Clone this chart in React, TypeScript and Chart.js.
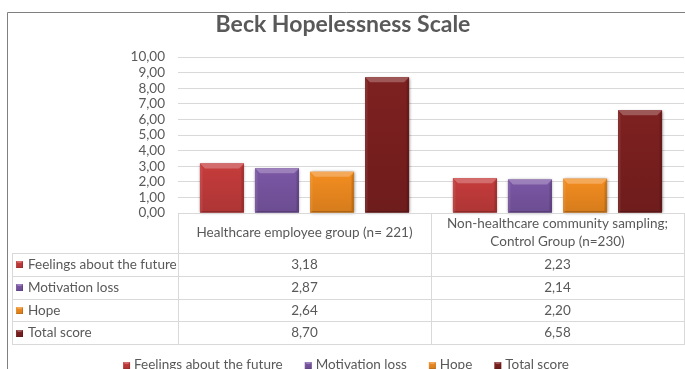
import React, { useEffect, useRef } from "react";
import { Chart, registerables } from "chart.js";

Chart.register(...registerables);

const title = "Beck Hopelessness Scale";
const categories = [
  "Healthcare employee group (n= 221)",
  "Non-healthcare community sampling; Control Group (n=230)",
];
const categoryLines = [
  ["Healthcare employee group (n= 221)"],
  ["Non-healthcare community sampling;", "Control Group (n=230)"],
];
const seriesNames = ["Feelings about the future", "Motivation loss", "Hope", "Total score"];
const feelings = [3.18, 2.23];
const motivation = [2.87, 2.14];
const hope = [2.64, 2.2];
const total = [8.7, 6.58];
const yMin = 0;
const yMax = 10;
const yStep = 1;

const seriesValues = [feelings, motivation, hope, total];
const faceColors = ["#c63c3c", "#7b57a5", "#f38d20", "#7e2020"];

const FONT = "Lato, 'Open Sans', sans-serif";
const TEXT = "#595959";
const LINE = "#d9d9d9";

const fmt = (v: number) => v.toFixed(2).replace(".", ",");

function drawBevelRect(ctx: CanvasRenderingContext2D, l: number, t: number, r: number, btm: number, b: number) {
  const poly = (pts: number[][], color: string) => {
    ctx.beginPath();
    ctx.moveTo(pts[0][0], pts[0][1]);
    for (let i = 1; i < pts.length; i++) ctx.lineTo(pts[i][0], pts[i][1]);
    ctx.closePath();
    ctx.fillStyle = color;
    ctx.fill();
  };
  const h = btm - t;
  const bb = Math.min(b, h / 2);
  const g = ctx.createLinearGradient(0, t, 0, btm);
  g.addColorStop(0, "rgba(0,0,0,0)");
  g.addColorStop(1, "rgba(0,0,0,0.12)");
  ctx.fillStyle = g;
  ctx.fillRect(l, t, r - l, h);
  poly([[l, t], [r, t], [r - bb, t + bb], [l + bb, t + bb]], "rgba(255,255,255,0.25)");
  poly([[l, t], [l + bb * 0.5, t + bb], [l + bb * 0.5, btm - bb * 0.3], [l, btm]], "rgba(255,255,255,0.08)");
  poly([[r, t], [r - bb * 0.5, t + bb], [r - bb * 0.5, btm - bb * 0.3], [r, btm]], "rgba(0,0,0,0.14)");
  poly([[l, btm], [r, btm], [r - bb * 0.5, btm - bb * 0.3], [l + bb * 0.5, btm - bb * 0.3]], "rgba(0,0,0,0.2)");
}

function drawSwatch(ctx: CanvasRenderingContext2D, x: number, cy: number, color: string) {
  const s = 7;
  const t = Math.round(cy - s / 2);
  ctx.fillStyle = color;
  ctx.fillRect(x, t, s, s);
  drawBevelRect(ctx, x, t, x + s, t + s, 2);
}

const shadowPlugin = {
  id: "barShadow",
  beforeDatasetsDraw(chart: any) {
    const ctx = chart.ctx;
    ctx.save();
    ctx.shadowColor = "rgba(0,0,0,0.45)";
    ctx.shadowBlur = 3;
    ctx.shadowOffsetX = 0.5;
    ctx.shadowOffsetY = 0.5;
    chart.data.datasets.forEach((ds: any, di: number) => {
      const meta = chart.getDatasetMeta(di);
      meta.data.forEach((el: any) => {
        const p = el.getProps(["x", "y", "width", "base"], true);
        ctx.fillStyle = ds.backgroundColor;
        ctx.fillRect(p.x - p.width / 2, p.y, p.width, p.base - p.y);
      });
    });
    ctx.restore();
  },
  afterDatasetsDraw(chart: any) {
    const ctx = chart.ctx;
    ctx.save();
    chart.data.datasets.forEach((_ds: any, di: number) => {
      const meta = chart.getDatasetMeta(di);
      meta.data.forEach((el: any) => {
        const p = el.getProps(["x", "y", "width", "base"], true);
        drawBevelRect(ctx, p.x - p.width / 2, p.y, p.x + p.width / 2, p.base, 5);
      });
    });
    ctx.restore();
  },
};

const tablePlugin = {
  id: "dataTable",
  afterDraw(chart: any) {
    const ctx: CanvasRenderingContext2D = chart.ctx;
    const area = chart.chartArea;
    const xs = chart.scales.x;
    const n = categories.length;
    const cw = (area.right - area.left) / n;
    const base = area.bottom;
    const headerBottom = base + 40;
    const rowH = 22.75;
    const tableLeft = 12;
    const tableRight = area.right + 4;
    const rows = seriesNames.length;
    const tableBottom = headerBottom + rowH * rows;
    ctx.save();
    ctx.strokeStyle = LINE;
    ctx.lineWidth = 1;
    const hl = (x1: number, x2: number, y: number) => {
      ctx.beginPath();
      ctx.moveTo(x1, Math.round(y) + 0.5);
      ctx.lineTo(x2, Math.round(y) + 0.5);
      ctx.stroke();
    };
    const vl = (x: number, y1: number, y2: number) => {
      ctx.beginPath();
      ctx.moveTo(Math.round(x) + 0.5, y1);
      ctx.lineTo(Math.round(x) + 0.5, y2);
      ctx.stroke();
    };
    hl(area.left, tableRight, base);
    for (let r = 0; r <= rows; r++) hl(tableLeft, tableRight, headerBottom + r * rowH);
    vl(tableLeft, headerBottom, tableBottom);
    for (let c = 0; c <= n; c++) vl(area.left + c * cw, base, tableBottom);

    ctx.fillStyle = TEXT;
    ctx.font = `13.5px ${FONT}`;
    ctx.textBaseline = "middle";
    ctx.textAlign = "center";
    categoryLines.forEach((lines, c) => {
      const cx = xs.getPixelForValue(c);
      const lh = 18;
      const cy0 = (base + headerBottom) / 2 - ((lines.length - 1) * lh) / 2;
      lines.forEach((ln, i) => ctx.fillText(ln, cx, cy0 + i * lh));
    });
    seriesNames.forEach((name, r) => {
      const cy = headerBottom + r * rowH + rowH / 2 + 0.5;
      drawSwatch(ctx, 16, cy, faceColors[r]);
      ctx.fillStyle = TEXT;
      ctx.textAlign = "left";
      ctx.fillText(name, 28, cy);
      ctx.textAlign = "center";
      seriesValues[r].forEach((v, c) => {
        ctx.fillText(fmt(v), xs.getPixelForValue(c), cy);
      });
    });

    // bottom legend
    const ly = 365;
    const gap = 22;
    const widths = seriesNames.map((s) => 11 + ctx.measureText(s).width);
    const totalW = widths.reduce((a, b) => a + b, 0) + gap * (seriesNames.length - 1);
    let lx = 346 - totalW / 2;
    ctx.textAlign = "left";
    seriesNames.forEach((s, i) => {
      drawSwatch(ctx, lx, ly, faceColors[i]);
      ctx.fillStyle = TEXT;
      ctx.fillText(s, lx + 11, ly);
      lx += widths[i] + gap;
    });

    // title
    ctx.font = `bold 23px ${FONT}`;
    ctx.textAlign = "center";
    ctx.fillStyle = TEXT;
    ctx.fillText(title, 343, 25);

    // outer border
    ctx.strokeStyle = "#808080";
    ctx.beginPath();
    ctx.moveTo(7.5, 400);
    ctx.lineTo(7.5, 12.5);
    ctx.lineTo(700, 12.5);
    ctx.stroke();
    ctx.restore();
  },
};

export default function App() {
  const ref = useRef<HTMLCanvasElement | null>(null);
  useEffect(() => {
    if (!ref.current) return;
    const chart = new Chart(ref.current, {
      type: "bar",
      data: {
        labels: categories,
        datasets: seriesNames.map((name, i) => ({
          label: name,
          data: seriesValues[i],
          backgroundColor: faceColors[i],
          borderWidth: 0,
          categoryPercentage: 0.87,
          barPercentage: 0.8,
        })),
      },
      options: {
        animation: false,
        responsive: false,
        devicePixelRatio: 1,
        layout: { padding: { top: 57, bottom: 156, left: 0, right: 1 } },
        plugins: {
          legend: { display: false },
          title: { display: false },
          tooltip: { enabled: false },
        },
        scales: {
          x: { display: false },
          y: {
            min: yMin,
            max: yMax,
            ticks: {
              stepSize: yStep,
              autoSkip: false,
              padding: 13,
              color: TEXT,
              font: { family: FONT, size: 13.5 },
              callback: (v: any) => fmt(Number(v)),
            },
            grid: { color: LINE, lineWidth: 1, drawTicks: false },
            border: { display: false },
            afterFit: (scale: any) => {
              scale.width = 178;
            },
          },
        },
      },
      plugins: [shadowPlugin, tablePlugin],
    });
    return () => chart.destroy();
  }, []);
  return (
    <div style={{ position: "fixed", left: 0, top: 0, width: 685, height: 369, background: "#fff" }}>
      <canvas ref={ref} width={685} height={369} style={{ display: "block", width: 685, height: 369 }} />
    </div>
  );
}
